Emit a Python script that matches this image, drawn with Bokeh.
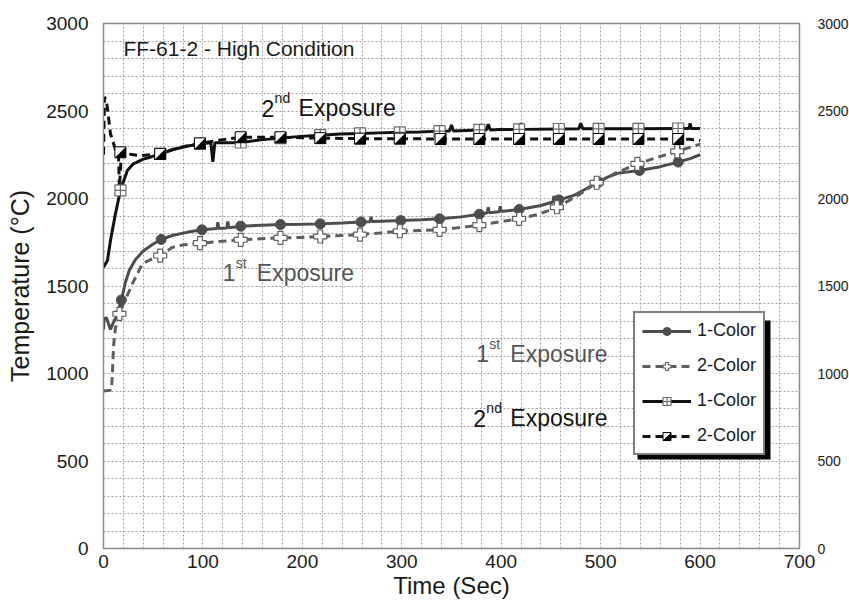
from bokeh.plotting import figure
from bokeh.models import (Range1d, LinearAxis, SingleIntervalTicker, Legend, LegendItem,
                          Label, BoxAnnotation, CustomJS)
from bokeh.embed import file_html
from bokeh.resources import INLINE

# ---------------- data ----------------
# 1st exposure, 1-Color pyrometer (gray solid, filled circles)
t_1st_1c = [0, 0.5, 3, 7, 11, 13, 18, 22, 26, 32, 40, 50, 58, 70, 85, 99, 114, 115, 116, 124, 125, 126,
            138, 160, 178, 200, 218, 240, 259, 268, 269, 270, 280, 299, 320, 338, 360, 378, 386, 387, 388,
            398, 399, 400, 418, 440, 452, 453, 454, 458, 473, 490, 507, 518, 539, 560, 578, 590, 600]
T_1st_1c = [1250, 1315, 1318, 1252, 1305, 1320, 1420, 1520, 1590, 1650, 1700, 1740, 1766, 1790, 1808, 1821,
            1828, 1865, 1829, 1832, 1868, 1833, 1842, 1847, 1851, 1853, 1855, 1860, 1866, 1867, 1895, 1868,
            1870, 1874, 1878, 1884, 1895, 1910, 1918, 1950, 1919, 1924, 1955, 1926, 1937, 1960, 1980, 2015,
            1983, 1992, 2017, 2070, 2122, 2145, 2160, 2182, 2208, 2228, 2250]
mk_t_1st_1c = [18, 58, 99, 138, 178, 218, 259, 299, 338, 378, 418, 458, 498, 539, 578]
mk_T_1st_1c = [1420, 1766, 1821, 1842, 1851, 1855, 1866, 1874, 1884, 1910, 1937, 1992, 2094, 2160, 2208]

# 1st exposure, 2-Color pyrometer (gray dashed, open plus)
t_1st_2c = [0, 8, 9, 10, 12, 16, 20, 25, 29, 35, 39, 47, 57, 69, 80, 97, 118, 138, 158, 178, 198, 218,
            238, 258, 278, 298, 318, 338, 358, 378, 398, 418, 438, 456, 475, 496, 515, 537, 557, 577, 600]
T_1st_2c = [900, 905, 1000, 1150, 1260, 1341, 1400, 1460, 1513, 1580, 1627, 1650, 1674, 1720, 1735, 1745,
            1755, 1764, 1770, 1775, 1777, 1783, 1788, 1794, 1803, 1813, 1817, 1821, 1834, 1848, 1866, 1884,
            1910, 1950, 2010, 2090, 2145, 2198, 2235, 2270, 2310]
mk_t_1st_2c = [16, 57, 97, 138, 178, 218, 258, 298, 338, 378, 418, 456, 496, 537, 577]
mk_T_1st_2c = [1341, 1674, 1745, 1764, 1775, 1783, 1794, 1813, 1821, 1848, 1884, 1950, 2090, 2198, 2270]

# 2nd exposure, 1-Color pyrometer (black solid, square with cross)
t_2nd_1c = [0, 4, 7, 12, 17, 24, 30, 40, 47, 57, 70, 85, 97, 108, 110, 112, 125, 138, 158, 178, 198, 218,
            238, 258, 278, 298, 318, 338, 348, 350, 352, 378, 385, 387, 389, 398, 418, 420, 422, 458, 478,
            480, 482, 498, 538, 578, 589, 590, 591, 600]
T_2nd_1c = [1607, 1646, 1760, 1912, 2046, 2160, 2198, 2225, 2236, 2255, 2280, 2300, 2312, 2318, 2210, 2318,
            2318, 2320, 2335, 2345, 2355, 2362, 2368, 2372, 2375, 2378, 2380, 2385, 2386, 2420, 2386, 2392,
            2392, 2425, 2392, 2394, 2395, 2430, 2395, 2397, 2398, 2430, 2398, 2398, 2398, 2400, 2400, 2430,
            2400, 2400]
mk_t_2nd_1c = [17, 57, 97, 138, 178, 218, 258, 298, 338, 378, 418, 458, 498, 538, 578]
mk_T_2nd_1c = [2046, 2255, 2312, 2320, 2345, 2362, 2372, 2378, 2385, 2392, 2395, 2397, 2398, 2398, 2400]

# 2nd exposure, 2-Color pyrometer (black dashed, half-filled square)
t_2nd_2c = [0, 1, 3, 7, 12, 15, 16, 18, 24, 37, 57, 75, 97, 118, 138, 158, 178, 218, 258, 298, 339, 378,
            418, 458, 498, 538, 578, 590, 600]
T_2nd_2c = [2250, 2580, 2560, 2370, 2280, 2265, 2060, 2262, 2255, 2245, 2255, 2290, 2315, 2335, 2350, 2350,
            2350, 2345, 2342, 2342, 2340, 2340, 2340, 2340, 2340, 2340, 2340, 2338, 2331]
mk_t_2nd_2c = [17, 57, 97, 138, 178, 218, 258, 298, 339, 378, 418, 458, 498, 538, 578]
mk_T_2nd_2c = [2264, 2255, 2315, 2350, 2350, 2345, 2342, 2342, 2340, 2340, 2340, 2340, 2340, 2340, 2340]

legend_labels = ["1-Color", "2-Color", "1-Color", "2-Color"]
title_text = "FF-61-2 - High Condition"

# ---------------- figure ----------------
FONT = "Liberation Sans"
FW, FH = 696, 525
X_MAX, Y_MAX = 700, 3000

p = figure(frame_width=FW, frame_height=FH,
           x_range=Range1d(0, X_MAX), y_range=Range1d(0, Y_MAX),
           output_backend="svg", toolbar_location=None,
           min_border_left=103, min_border_right=50, min_border_top=23, min_border_bottom=56,
           background_fill_color="white", border_fill_color="white")
p.outline_line_color = "#8a8a8a"
p.outline_line_width = 1.5

GRID_COLOR = "#a0a0a0"
p.xgrid.ticker = SingleIntervalTicker(interval=20)
p.ygrid.ticker = SingleIntervalTicker(interval=100)
for g in (p.xgrid, p.ygrid):
    g.grid_line_color = GRID_COLOR
    g.grid_line_dash = "2 2"
    g.grid_line_width = 1

xa = p.xaxis[0]
xa.ticker = SingleIntervalTicker(interval=100)
xa.axis_label = "Time (Sec)"
ya = p.yaxis[0]
ya.ticker = SingleIntervalTicker(interval=500)
ya.axis_label = "Temperature (\u00b0C)"

for ax in (xa, ya):
    ax.axis_line_color = "#8a8a8a"
    ax.major_tick_out = 0
    ax.major_tick_in = 0
    ax.minor_tick_out = 0
    ax.minor_tick_in = 0
    ax.major_label_text_font = FONT
    ax.major_label_text_font_size = "19px"
    ax.major_label_text_color = "#1a1a1a"
    ax.axis_label_text_font = FONT
    ax.axis_label_text_font_style = "normal"
    ax.axis_label_text_color = "#1a1a1a"
xa.axis_label_text_font_size = "24px"
ya.axis_label_text_font_size = "25px"
xa.major_label_standoff = 6
xa.axis_label_standoff = 1
ya.major_label_standoff = 15
ya.axis_label_standoff = 9

ra = LinearAxis(ticker=SingleIntervalTicker(interval=500))
ra.axis_line_color = "#8a8a8a"
ra.major_tick_out = 0
ra.major_tick_in = 0
ra.minor_tick_out = 0
ra.minor_tick_in = 0
ra.major_label_text_font = FONT
ra.major_label_text_font_size = "14px"
ra.major_label_text_color = "#1a1a1a"
ra.major_label_standoff = 18
p.add_layout(ra, "right")

# ---------------- series ----------------
GRAY1 = "#4d4d4d"
GRAY2 = "#5e5e5e"
BLACK = "#111111"
DASH = "8 5"

lA = p.line(t_1st_1c, T_1st_1c, line_color=GRAY1, line_width=3)
lB = p.line(t_1st_2c, T_1st_2c, line_color=GRAY2, line_width=3, line_dash=DASH)
lC = p.line(t_2nd_1c, T_2nd_1c, line_color=BLACK, line_width=3)
lD = p.line(t_2nd_2c, T_2nd_2c, line_color=BLACK, line_width=3, line_dash=DASH)

sA = p.scatter(mk_t_1st_1c, mk_T_1st_1c, marker="circle", size=10,
               fill_color=GRAY1, line_color=GRAY1)
sB = p.scatter(mk_t_1st_2c, mk_T_1st_2c, marker="plus", size=13,
               fill_color="white", line_color=GRAY2, line_width=1.2)
sC = p.scatter(mk_t_2nd_1c, mk_T_2nd_1c, marker="square_cross", size=11,
               fill_color="white", line_color="#6a6a6a", line_width=1.2)

HALF_JS = """
export default (...xs) => {
  let d = null
  for (const x of xs) { if (x != null && typeof x === "object" && ("ctx" in x)) { d = x } }
  if (d == null) return
  const ctx = d.ctx
  const r = d.r
  ctx.beginPath()
  ctx.rect(-r, -r, 2*r, 2*r)
  ctx.fillStyle = "#ffffff"
  ctx.fill()
  ctx.beginPath()
  ctx.moveTo(-r, r)
  ctx.lineTo(r, r)
  ctx.lineTo(r, -r)
  ctx.closePath()
  ctx.fillStyle = "#000000"
  ctx.fill()
  ctx.beginPath()
  ctx.rect(-r, -r, 2*r, 2*r)
  ctx.lineWidth = 1
  ctx.strokeStyle = "#000000"
  ctx.stroke()
  ctx.beginPath()
}
"""
try:
    sD = p.scatter(mk_t_2nd_2c, mk_T_2nd_2c, marker="@halfsq",
                   defs={"@halfsq": CustomJS(code=HALF_JS)}, size=11,
                   fill_color="white", line_color="black")
except Exception:
    sD = p.scatter(mk_t_2nd_2c, mk_T_2nd_2c, marker="square", size=11,
                   fill_color="white", line_color="black")

# ---------------- text annotations ----------------
p.add_layout(Label(x=20, y=2860, text=title_text, text_font=FONT, text_font_size="21px",
                   text_color="#1a1a1a", text_baseline="middle"))


def exposure_label(x, y, num, sup, color, sup_dx, word_dx):
    p.add_layout(Label(x=x, y=y, text=num, text_font=FONT, text_font_size="23px",
                       text_color=color, text_baseline="middle"))
    p.add_layout(Label(x=x, y=y, text=sup, x_offset=sup_dx, y_offset=10, text_font=FONT,
                       text_font_size="14px", text_color=color, text_baseline="middle"))
    p.add_layout(Label(x=x, y=y, text="Exposure", x_offset=word_dx, text_font=FONT,
                       text_font_size="23px", text_color=color, text_baseline="middle"))


exposure_label(159, 2515, "2", "nd", "#151515", 13, 37)
exposure_label(120, 1575, "1", "st", "#555555", 13, 34)
exposure_label(375, 1112, "1", "st", "#555555", 13, 34)
exposure_label(372, 745, "2", "nd", "#151515", 13, 37)

# ---------------- legend with drop shadow ----------------
LEG_X, LEG_Y = 530, 93          # legend bottom-left, px from frame bottom-left
LEG_W, LEG_H = 133, 139         # approximate legend box size, px
SH = 4                          # shadow offset, px
px2x = X_MAX / FW
px2y = Y_MAX / FH
p.add_layout(BoxAnnotation(left=(LEG_X + SH) * px2x, right=(LEG_X + LEG_W + SH) * px2x,
                           bottom=(LEG_Y - SH) * px2y, top=(LEG_Y + LEG_H - SH) * px2y,
                           fill_color="black", fill_alpha=1.0, line_color=None))

legend = Legend(items=[LegendItem(label=legend_labels[0], renderers=[lA, sA]),
                       LegendItem(label=legend_labels[1], renderers=[lB, sB]),
                       LegendItem(label=legend_labels[2], renderers=[lC, sC]),
                       LegendItem(label=legend_labels[3], renderers=[lD, sD])],
                location=(LEG_X, LEG_Y), margin=0, padding=7, spacing=14,
                glyph_width=49, glyph_height=20, label_height=20, label_standoff=6,
                label_text_font=FONT, label_text_font_size="18px", label_text_color="#1a1a1a",
                border_line_color="black", border_line_width=2,
                background_fill_color="white", background_fill_alpha=1.0)
p.add_layout(legend, "center")

open("out.html", "w").write(file_html(p, INLINE))
